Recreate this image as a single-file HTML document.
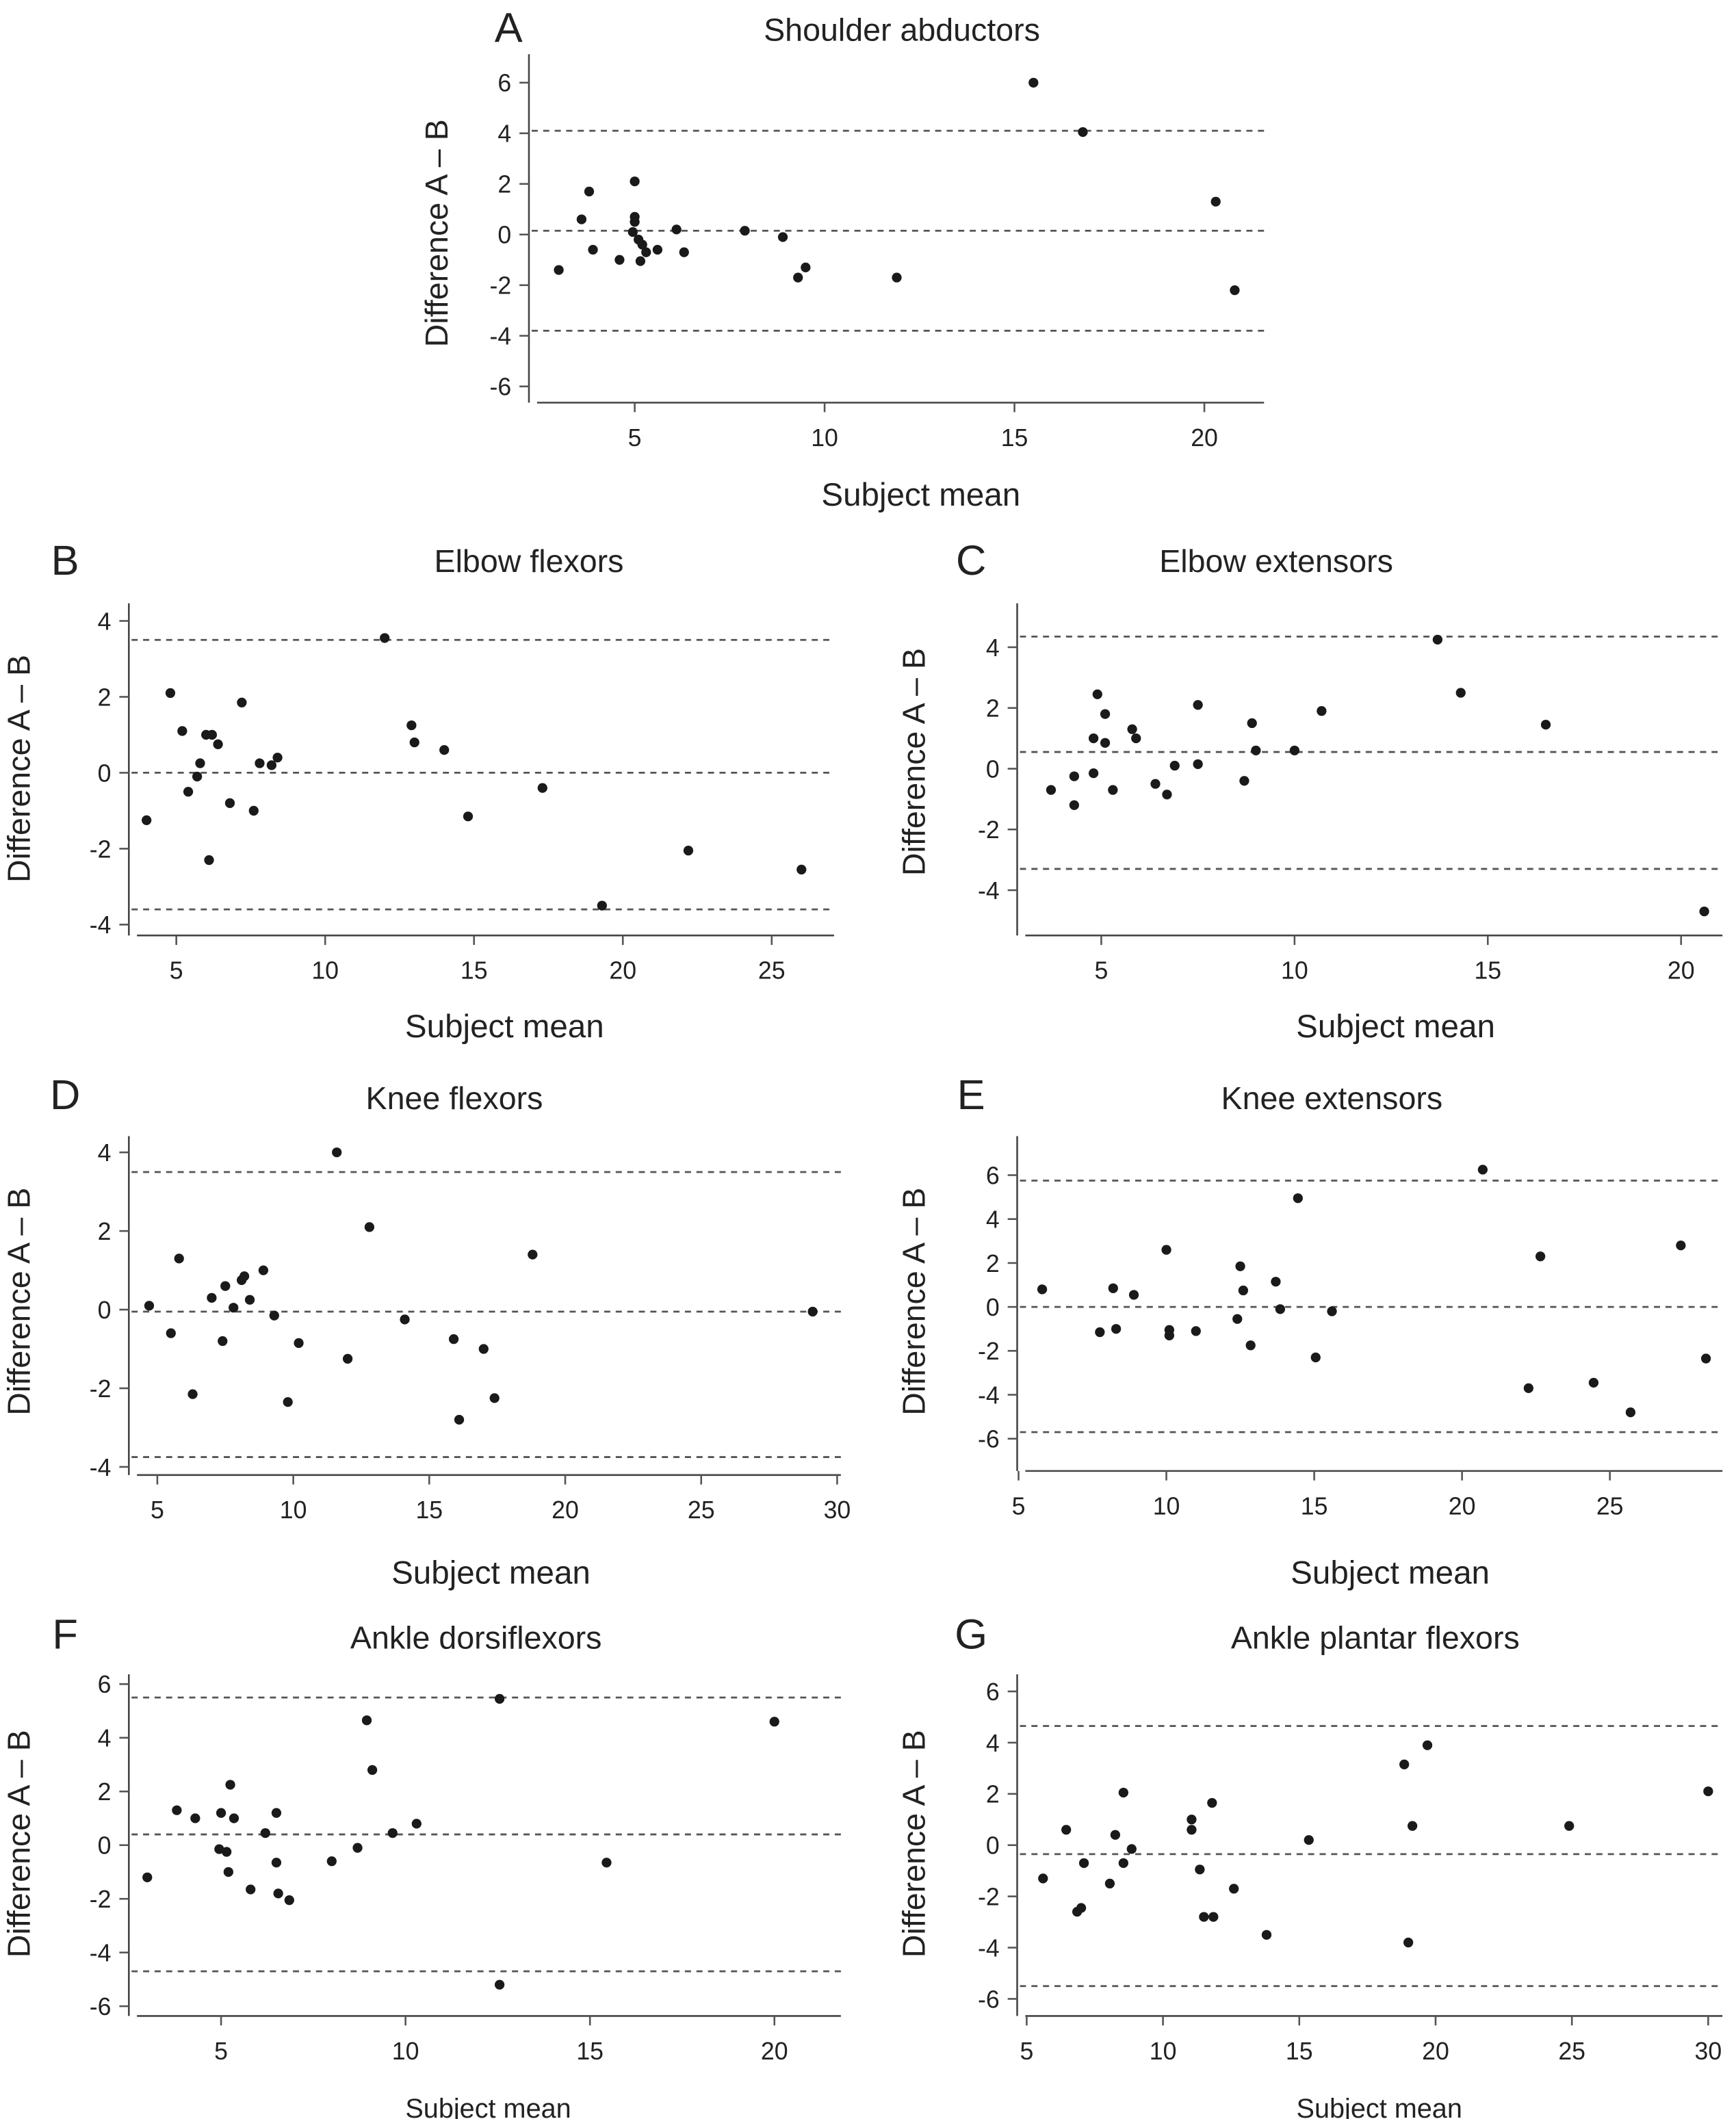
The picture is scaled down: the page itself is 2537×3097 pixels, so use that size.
<!DOCTYPE html>
<html><head><meta charset="utf-8">
<style>
html,body{margin:0;padding:0;background:#fff;}
svg{display:block;}
text{font-family:"Liberation Sans",sans-serif;fill:#222;}
</style></head>
<body>
<svg id="fig" xmlns="http://www.w3.org/2000/svg" width="2537" height="3097" viewBox="0 0 1280 1563" preserveAspectRatio="none"></svg>
<script>
// Panel A data
const aX=[15.5,16.8,20.3,20.8,11.9,9.5,9.3,8.9,7.9,6.1,6.3,5.6,5.0,5.0,5.0,4.95,5.1,5.2,5.3,5.15,4.6,3.8,3.6,3.9,3.0];
const aY=[6,4.05,1.3,-2.2,-1.7,-1.3,-1.7,-0.1,0.15,0.2,-0.7,-0.6,2.1,0.7,0.5,0.1,-0.2,-0.4,-0.7,-1.05,-1.0,1.7,0.6,-0.6,-1.4];
const aLines=[4.1,0.15,-3.8];
// Panel B data
const bX=[4,4.8,5.2,5.4,5.7,5.8,6,6.2,6.1,6.4,6.8,7.2,7.6,7.8,8.2,8.4,12,12.9,13,14,14.8,17.3,19.3,22.2,26];
const bY=[-1.25,2.1,1.1,-0.5,-0.1,0.25,1,1,-2.3,0.75,-0.8,1.85,-1.0,0.25,0.2,0.4,3.55,1.25,0.8,0.6,-1.15,-0.4,-3.5,-2.05,-2.55];
const bLines=[3.5,0,-3.6];
// Panel C data
const cX=[3.7,4.3,4.3,4.8,4.8,4.9,5.1,5.1,5.3,5.8,5.9,6.4,6.7,6.9,7.5,7.5,8.7,8.9,9,10,10.7,13.7,14.3,16.5,20.6];
const cY=[-0.7,-1.2,-0.25,-0.15,1.0,2.45,1.8,0.85,-0.7,1.3,1.0,-0.5,-0.85,0.1,2.1,0.15,-0.4,1.5,0.6,0.6,1.9,4.25,2.5,1.45,-4.7];
const cLines=[4.35,0.55,-3.3];
// Panel D data
const dX=[4.7,5.5,5.8,6.3,7,7.4,7.5,7.8,8.1,8.2,8.4,8.9,9.3,9.8,10.2,11.6,12,12.8,14.1,15.9,16.1,17,17.4,18.8,29.1];
const dY=[0.1,-0.6,1.3,-2.15,0.3,-0.8,0.6,0.05,0.75,0.85,0.25,1.0,-0.15,-2.35,-0.85,4.0,-1.25,2.1,-0.25,-0.75,-2.8,-1.0,-2.25,1.4,-0.05];
const dLines=[3.5,-0.05,-3.75];
// Panel E data
const eX=[5.8,7.75,8.2,8.3,8.9,10.0,10.1,10.1,11,12.4,12.5,12.6,12.85,14.45,13.7,13.85,15.05,15.6,20.7,22.25,22.65,24.45,25.7,27.4,28.25];
const eY=[0.8,-1.15,0.85,-1,0.55,2.6,-1.05,-1.3,-1.1,-0.55,1.85,0.75,-1.75,4.95,1.15,-0.1,-2.3,-0.2,6.25,-3.7,2.3,-3.45,-4.8,2.8,-2.35];
const eLines=[5.75,0,-5.7];
// Panel F data
const fX=[3.0,3.8,4.3,4.95,5.0,5.15,5.2,5.25,5.35,5.8,6.2,6.5,6.5,6.55,6.85,8.0,8.7,8.95,9.1,9.65,10.3,12.55,12.55,15.45,20.0];
const fY=[-1.2,1.3,1.0,-0.15,1.2,-0.25,-1.0,2.25,1.0,-1.65,0.45,1.2,-0.65,-1.8,-2.05,-0.6,-0.1,4.65,2.8,0.45,0.8,5.45,-5.2,-0.65,4.6];
const fLines=[5.5,0.4,-4.7];
// Panel G data
const gX=[5.6,6.45,6.85,7.0,7.1,8.05,8.25,8.55,8.55,8.85,11.05,11.05,11.35,11.5,11.8,11.85,12.6,13.8,15.35,18.85,19.0,19.15,19.7,24.9,30.0];
const gY=[-1.3,0.6,-2.6,-2.45,-0.7,-1.5,0.4,2.05,-0.7,-0.15,1.0,0.6,-0.95,-2.8,1.65,-2.8,-1.7,-3.5,0.2,3.15,-3.8,0.75,3.9,0.75,2.1];
const gLines=[4.65,-0.35,-5.5];
// Tick values
const yTicks6=[-6,-4,-2,0,2,4,6];
const yTicks4=[-4,-2,0,2,4];
const xTicks20=[5,10,15,20];
const xTicks25=[5,10,15,20,25];
const xTicks30=[5,10,15,20,25,30];

const NS='http://www.w3.org/2000/svg';
const svg=document.getElementById('fig');
function mk(tag,attrs,parent){const e=document.createElementNS(NS,tag);for(const k in attrs)e.setAttribute(k,attrs[k]);(parent||svg).appendChild(e);return e;}

const panels=[
 {id:'a',letter:'A',title:'Shoulder abductors',xs:aX,ys:aY,lines:aLines,ax:390,top:40,ay:297,right:932,x0:468,xs1:28,y0:173,ys1:18.67,yt:yTicks6,xt:xTicks20,tx:665,ty:30,lx:375,ly:31,xtx:679,xty:373,xtSize:24,ytx:322,yty:172},
 {id:'b',letter:'B',title:'Elbow flexors',xs:bX,ys:bY,lines:bLines,ax:95,top:445,ay:690,right:615,x0:130,xs1:21.95,y0:570,ys1:28,yt:yTicks4,xt:xTicks25,tx:390,ty:422,lx:48,ly:424,xtx:372,xty:765,xtSize:24,ytx:14,yty:567},
 {id:'c',letter:'C',title:'Elbow extensors',xs:cX,ys:cY,lines:cLines,ax:750,top:445,ay:690,right:1270,x0:812,xs1:28.5,y0:567,ys1:22.4,yt:yTicks4,xt:xTicks20,tx:941,ty:422,lx:716,ly:424,xtx:1029,xty:765,xtSize:24,ytx:674,yty:562},
 {id:'d',letter:'D',title:'Knee  flexors',xs:dX,ys:dY,lines:dLines,ax:95,top:838,ay:1088,right:620,x0:116,xs1:20.05,y0:966,ys1:29,yt:yTicks4,xt:xTicks30,tx:335,ty:818,lx:48,ly:818,xtx:362,xty:1168,xtSize:24,ytx:14,yty:960},
 {id:'e',letter:'E',title:'Knee  extensors',xs:eX,ys:eY,lines:eLines,ax:750,top:838,ay:1085,right:1270,x0:751,xs1:21.8,y0:964,ys1:16.2,yt:yTicks6,xt:xTicks25,tx:982,ty:818,lx:716,ly:818,xtx:1025,xty:1168,xtSize:24,ytx:674,yty:960},
 {id:'f',letter:'F',title:'Ankle dorsiflexors',xs:fX,ys:fY,lines:fLines,ax:95,top:1235,ay:1487,right:620,x0:163,xs1:27.2,y0:1361,ys1:19.8,yt:yTicks6,xt:xTicks20,tx:351,ty:1216,lx:48,ly:1216,xtx:360,xty:1562,xtSize:20,ytx:14,yty:1360},
 {id:'g',letter:'G',title:'Ankle plantar flexors',xs:gX,ys:gY,lines:gLines,ax:750,top:1235,ay:1487,right:1270,x0:757,xs1:20.1,y0:1361,ys1:18.9,yt:yTicks6,xt:xTicks30,tx:1014,ty:1216,lx:716,ly:1216,xtx:1017,xty:1562,xtSize:20,ytx:674,yty:1360}
];

panels.forEach(p=>{
  const X=v=>p.x0+(v-5)*p.xs1;
  const Y=v=>p.y0-v*p.ys1;
  const g=mk('g',{});
  
  
  const L=mk('text',{x:p.lx,y:p.ly,'font-size':31,'text-anchor':'middle'},g);L.textContent=p.letter;
  
  
  const T=mk('text',{x:p.tx,y:p.ty,'font-size':23.5,'text-anchor':'middle'},g);T.textContent=p.title;
  
  
  const ya=mk('line',{x1:p.ax,y1:p.top,x2:p.ax,y2:p.ay,stroke:'#444','stroke-width':1.3},g);
  
  
  const xa=mk('line',{x1:p.ax+6,y1:p.ay,x2:p.right,y2:p.ay,stroke:'#444','stroke-width':1.3},g);
  
  
  p.yt.forEach(v=>{
    const t=mk('line',{x1:p.ax-7,y1:Y(v),x2:p.ax,y2:Y(v),stroke:'#555','stroke-width':1.3},g);
    
    
    const tl=mk('text',{x:p.ax-13,y:Y(v)+6.5,'font-size':18,'text-anchor':'end'},g);tl.textContent=v;
    
    
  });
  p.xt.forEach(v=>{
    const t=mk('line',{x1:X(v),y1:p.ay,x2:X(v),y2:p.ay+7,stroke:'#555','stroke-width':1.3},g);
    
    
    const tl=mk('text',{x:X(v),y:p.ay+32,'font-size':18,'text-anchor':'middle'},g);tl.textContent=v;
    
    
  });
  const xt=mk('text',{x:p.xtx,y:p.xty,'font-size':p.xtSize,'text-anchor':'middle'},g);xt.textContent='Subject mean';
  
  
  const yt=mk('text',{x:0,y:0,'font-size':23.5,'text-anchor':'middle',transform:`translate(${p.ytx+8},${p.yty}) rotate(-90)`},g);yt.textContent='Difference A \u2013 B';
  
  
  p.lines.forEach((v,i)=>{
    const l=mk('line',{x1:p.ax+2,y1:Y(v),x2:p.right,y2:Y(v),stroke:'#555','stroke-width':1.4,'stroke-dasharray':'4.5 4'},g);
    
    
  });
  p.xs.forEach((v,i)=>{
    const c=mk('circle',{cx:X(v),cy:Y(p.ys[i]),r:3.6,fill:'#1a1a1a'},g);
    
    
  });
});
</script>
</body></html>
